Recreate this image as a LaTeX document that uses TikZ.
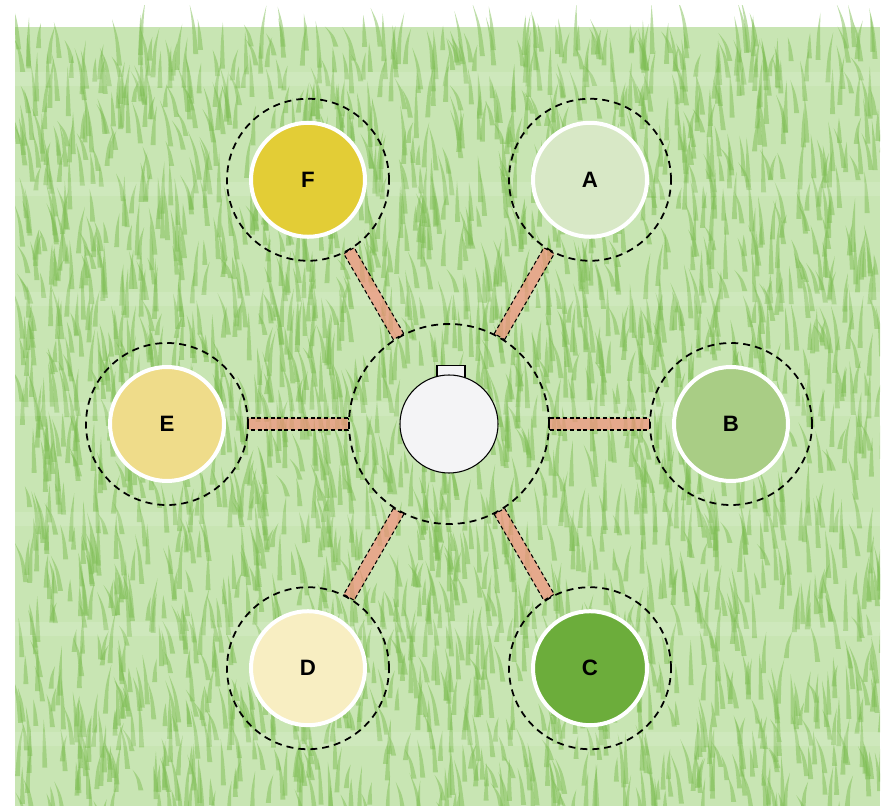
\documentclass[tikz,border=0pt]{standalone}
\usepackage{fontspec}
\setmainfont{Liberation Sans}
\usepackage{xcolor}
\usepackage{tikz}
\usetikzlibrary{positioning}
\definecolor{GrassBase}{HTML}{C8E5B3}
\definecolor{GrassBlade}{HTML}{7FBE55}
\definecolor{LinkFill}{HTML}{F2907C}
\definecolor{discA}{HTML}{D8E8C6}
\definecolor{discB}{HTML}{A9CD85}
\definecolor{discC}{HTML}{6CAD3B}
\definecolor{discD}{HTML}{F8EEC2}
\definecolor{discE}{HTML}{EFDC8A}
\definecolor{discF}{HTML}{E3CD36}
\definecolor{CoreFill}{HTML}{F4F4F6}

\begin{document}
\begin{tikzpicture}[
  x=0.03cm, y=0.03cm,
  blade/.style={fill=GrassBlade, fill opacity=0.5},
  disc/.style={circle, draw=white, line width=0.12cm, minimum size=3.42cm,
    inner sep=0pt, font=\fontsize{19}{19}\selectfont\bfseries},
  ring/.style={circle, draw=black, dash pattern=on 0.21cm off 0.15cm,
    line width=1.5pt, minimum size=4.86cm, inner sep=0pt},
  hubring/.style={ring, minimum size=6cm},
  core/.style={circle, draw=black, line width=0.9pt, fill=CoreFill,
    minimum size=2.94cm, inner sep=0pt},
  tab/.style={draw=black, line width=0.9pt, fill=CoreFill,
    minimum width=0.84cm, minimum height=0.4cm, inner sep=0pt},
  link/.style={draw=black, dash pattern=on 0.12cm off 0.08cm, line width=0.9pt,
    fill=LinkFill, fill opacity=0.7}
]
  \useasboundingbox (0,0) rectangle (889,806);

  % grass field
  \fill[GrassBase] (15,0) rectangle (880,779);
  \begin{scope}
    \clip (15,0) rectangle (880,800);
    \pgfmathsetseed{11}
    \foreach \i in {1,...,2600}{
      \pgfmathsetmacro\x{15+865*rnd}
      \pgfmathsetmacro\y{-20+780*rnd}
      \pgfmathsetmacro\h{20+34*rnd}
      \pgfmathsetmacro\bx{-9+18*rnd}
      \fill[blade] (\x,\y) .. controls ({\x+\bx*0.3},{\y+\h*0.6}) .. ({\x+\bx},{\y+\h})
        .. controls ({\x+\bx*0.3+3},{\y+\h*0.6}) .. ({\x+5},\y) -- cycle;
    }
  \end{scope}
  \foreach \y in {60,170,280,390,500,610,720}
    \fill[white, opacity=0.12] (15,\y) rectangle (880,\y+14);

  % hub
  \node[hubring] (hub) at (449,382) {};
  \node[tab] (tab) at ([shift={(2,52)}]hub.center) {};
  \node[core] (core) at (hub) {};

  % satellites
  \foreach \n/\a in {A/60, B/0, C/-60, D/-120, E/180, F/120}{
    \node[disc, fill=disc\n] (\n) at ([shift={(\a:282)}]hub.center) {\n};
    \node[ring] (ring\n) at (\n) {};
  }

  % links
  \foreach \n/\a in {A/60, B/0, C/-60, D/-120, E/180, F/120}{
    \pgfmathtruncatemacro\b{\a+180}
    \draw[link] ([shift={(\a-90:6)}]hub.\a) -- ([shift={(\a-90:6)}]ring\n.\b)
      -- ([shift={(\a+90:6)}]ring\n.\b) -- ([shift={(\a+90:6)}]hub.\a) -- cycle;
  }
\end{tikzpicture}
\end{document}
